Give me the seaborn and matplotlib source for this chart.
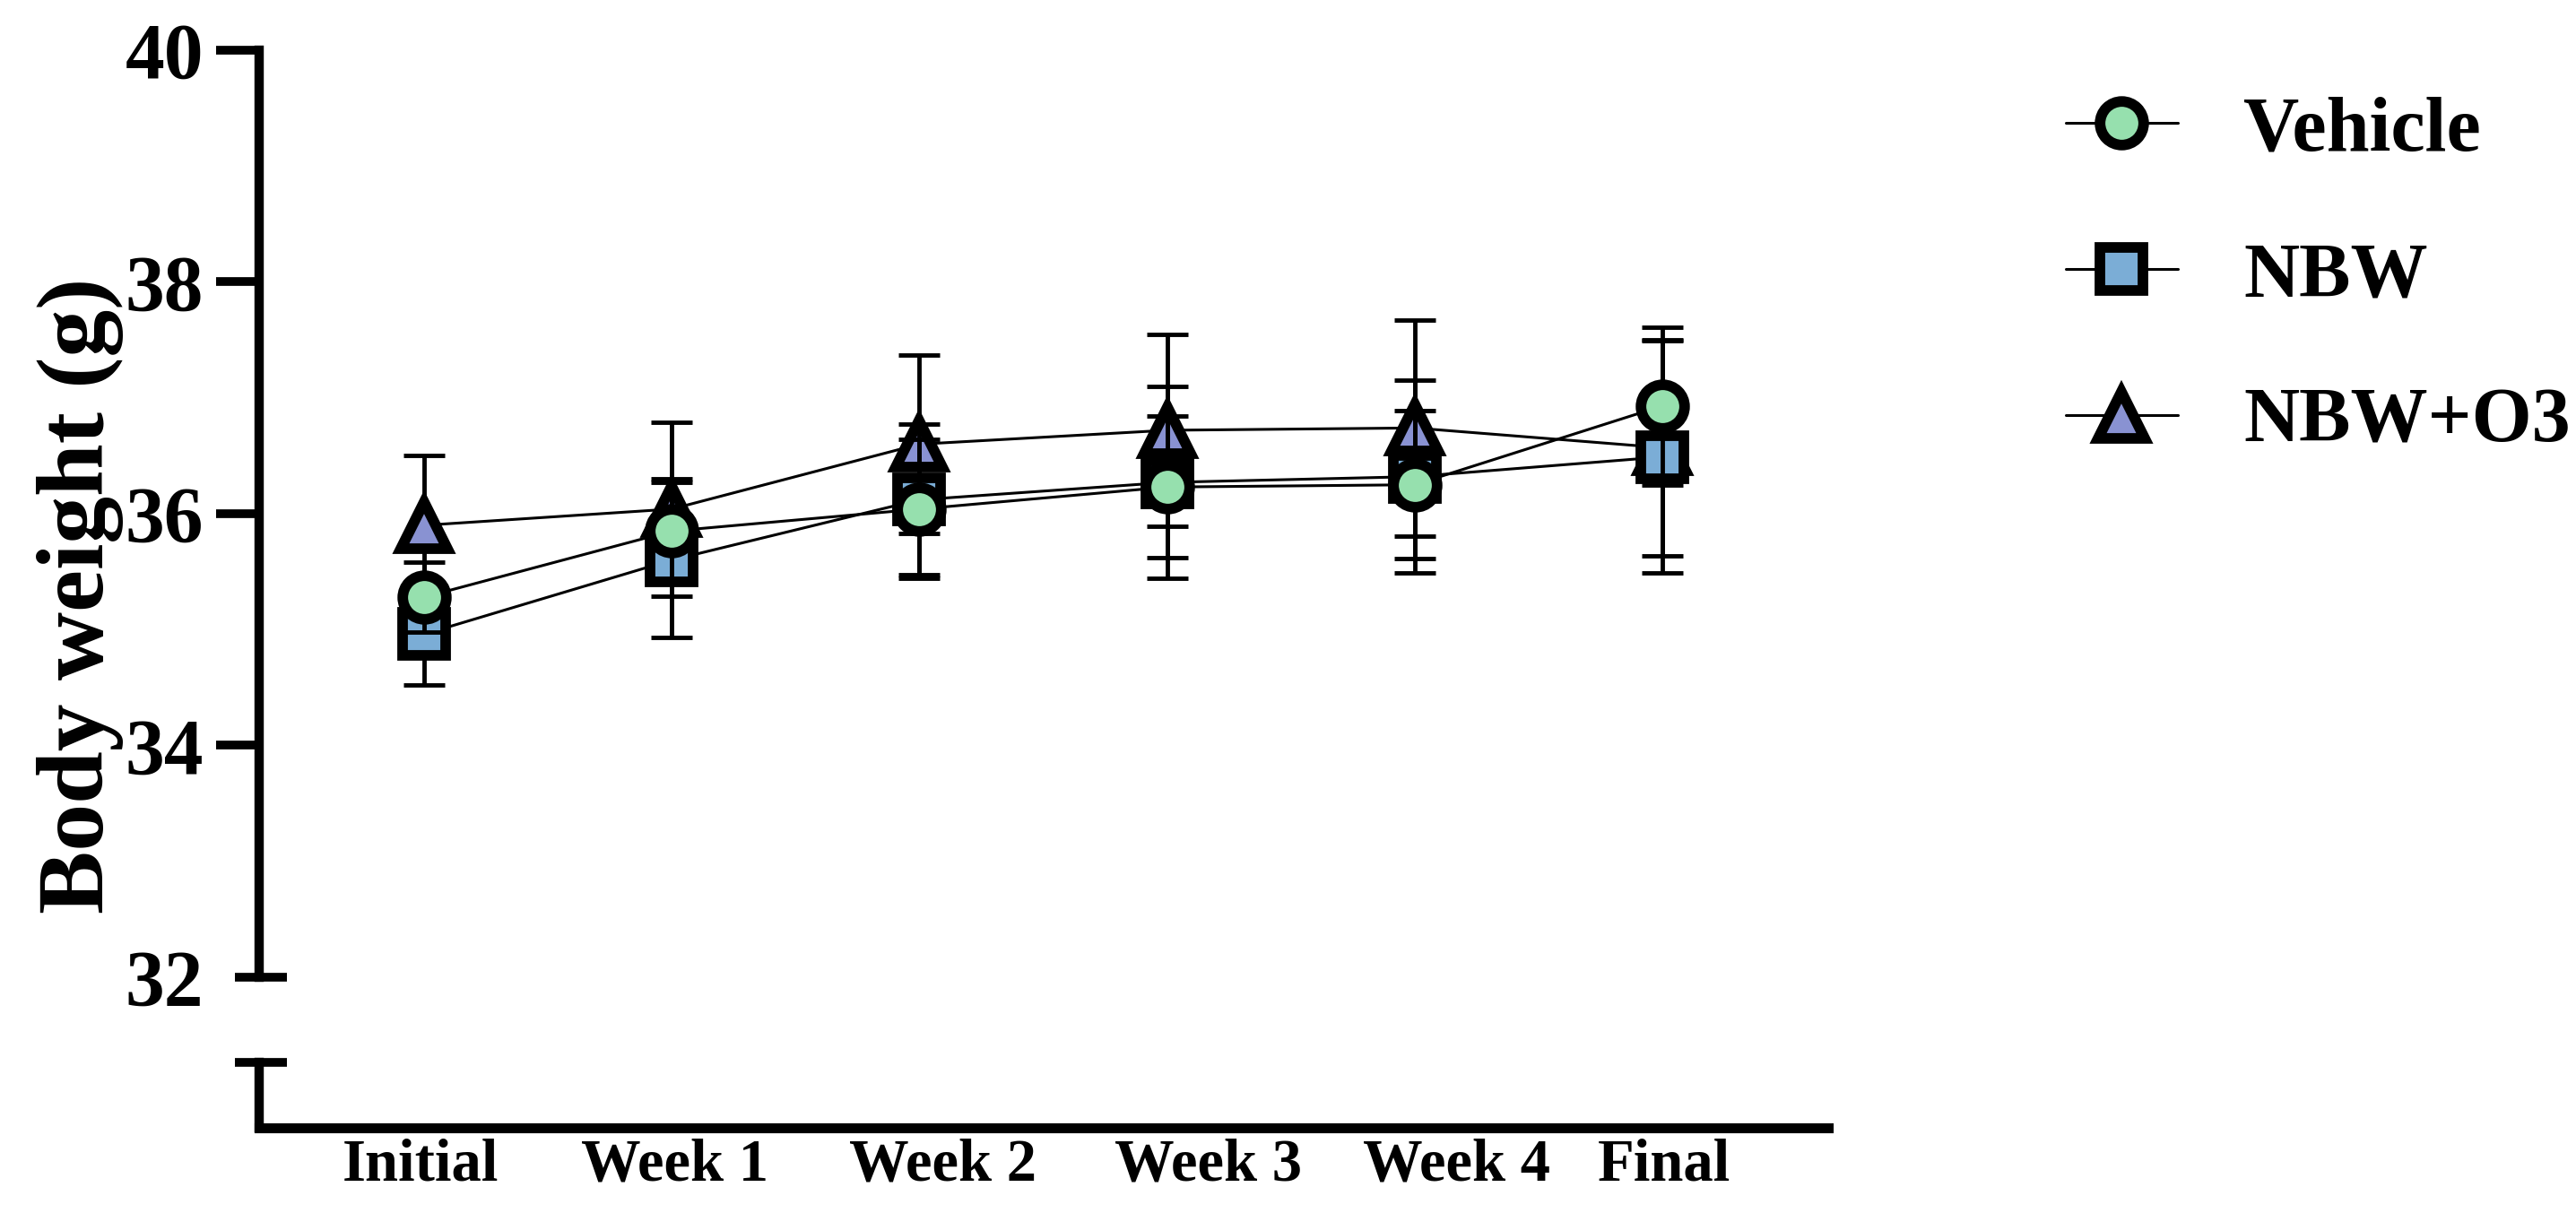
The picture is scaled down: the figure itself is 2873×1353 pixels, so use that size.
import numpy as np
import pandas as pd
import matplotlib.pyplot as plt
import matplotlib.transforms as mtransforms
import seaborn as sns

times = ['Initial', 'Week 1', 'Week 2', 'Week 3', 'Week 4', 'Final']
groups = ['Vehicle', 'NBW', 'NBW+O3']

vehicle_mean = [35.28, 35.85, 36.04, 36.23, 36.25, 36.93]
vehicle_err = [0.30, 0.45, 0.60, 0.61, 0.64, 0.68]
nbw_mean = [34.96, 35.60, 36.12, 36.27, 36.32, 36.49]
nbw_err = [0.44, 0.67, 0.65, 0.83, 0.83, 1.00]
nbwo3_mean = [35.90, 36.04, 36.60, 36.72, 36.74, 36.57]
nbwo3_err = [0.60, 0.75, 0.77, 0.83, 0.93, 0.93]

df = pd.concat([
    pd.DataFrame({'time': times, 'weight': vehicle_mean, 'err': vehicle_err, 'group': 'Vehicle'}),
    pd.DataFrame({'time': times, 'weight': nbw_mean, 'err': nbw_err, 'group': 'NBW'}),
    pd.DataFrame({'time': times, 'weight': nbwo3_mean, 'err': nbwo3_err, 'group': 'NBW+O3'}),
])

colors = {'Vehicle': '#96e0ae', 'NBW': '#7badd6', 'NBW+O3': '#8992d2'}
markers = {'Vehicle': 'o', 'NBW': 's', 'NBW+O3': '^'}
msize = {'Vehicle': 35, 'NBW': 35, 'NBW+O3': 38}

sns.set_style('ticks')
plt.rcParams['font.family'] = ['Liberation Serif', 'DejaVu Serif']
plt.rcParams['font.weight'] = 'bold'
for k in ['text.color', 'axes.edgecolor', 'axes.labelcolor', 'xtick.color', 'ytick.color']:
    plt.rcParams[k] = 'black'

fig = plt.figure(figsize=(28.73, 13.53), dpi=100)
ax = fig.add_axes([289 / 2873, 95 / 1353, 1750 / 2873, 1202 / 1353])

# draw NBW+O3 first so circles end up on top
for i, g in enumerate(['NBW+O3', 'NBW', 'Vehicle']):
    sub = df[df.group == g]
    ax.errorbar(sub['time'], sub['weight'], yerr=sub['err'], fmt='none', ecolor='black',
                elinewidth=3.5, capsize=16.5, capthick=3.5, zorder=3 + 2 * i)
    sns.lineplot(data=sub, x='time', y='weight', ax=ax, sort=False, errorbar=None,
                 color='black', linewidth=2.2, marker=markers[g], markersize=msize[g],
                 markerfacecolor=colors[g], markeredgecolor='black', markeredgewidth=8.5,
                 label=g, legend=False, zorder=4 + 2 * i)

ax.set_xlim(-0.666, 5.67)
ax.set_ylim(30.70, 40)
ax.set_yticks([32, 34, 36, 38, 40])
ax.set_xlabel('')
ax.set_ylabel('Body weight (g)', fontsize=76, fontweight='bold', color='black')
ax.yaxis.set_label_coords(-0.086, 0.494)

for s in ['top', 'right']:
    ax.spines[s].set_visible(False)
ax.spines['left'].set_linewidth(7.5)
ax.spines['bottom'].set_linewidth(8)
ax.spines['left'].set_bounds(32, 40)
ax.spines['left'].set_capstyle('projecting')

ax.tick_params(axis='y', length=34.5, width=7, pad=10, labelsize=63, color='black', labelcolor='black')
ax.tick_params(axis='x', length=0, pad=8, labelsize=48, labelcolor='black')
for lab in ax.get_yticklabels() + ax.get_xticklabels():
    lab.set_fontweight('bold')
ax.yaxis.get_major_ticks()[0].tick1line.set_visible(False)

# category labels sit slightly off the points in the original
xlabel_shift_px = [-4, 3, 26, 46, 47, 2]
for lab, dx in zip(ax.get_xticklabels(), xlabel_shift_px):
    lab.set_transform(lab.get_transform() + mtransforms.ScaledTranslation(dx / 100, 0, fig.dpi_scale_trans))

# axis break: short lower stub plus two caps
yt = ax.get_yaxis_transform()
ax.plot([0, 0], [30.70, 31.265], transform=yt, color='black', lw=7.5,
        solid_capstyle='projecting', clip_on=False)
for yb in [32, 31.265]:
    ax.plot([-0.0154, 0.0177], [yb, yb], transform=yt, color='black', lw=7,
            solid_capstyle='butt', clip_on=False)

handles, labels = ax.get_legend_handles_labels()
order = [labels.index(g) for g in groups]
ax.legend([handles[k] for k in order], [labels[k] for k in order],
          loc='upper left', bbox_to_anchor=(2304 / 2873, 1 - 107 / 1353),
          bbox_transform=fig.transFigure, frameon=False,
          prop={'family': 'Liberation Serif', 'weight': 'bold', 'size': 62},
          handlelength=1.45, handletextpad=0.85, labelspacing=0.97,
          borderpad=0, borderaxespad=0, numpoints=1)

fig.savefig('out.png', dpi=100, facecolor='white')
